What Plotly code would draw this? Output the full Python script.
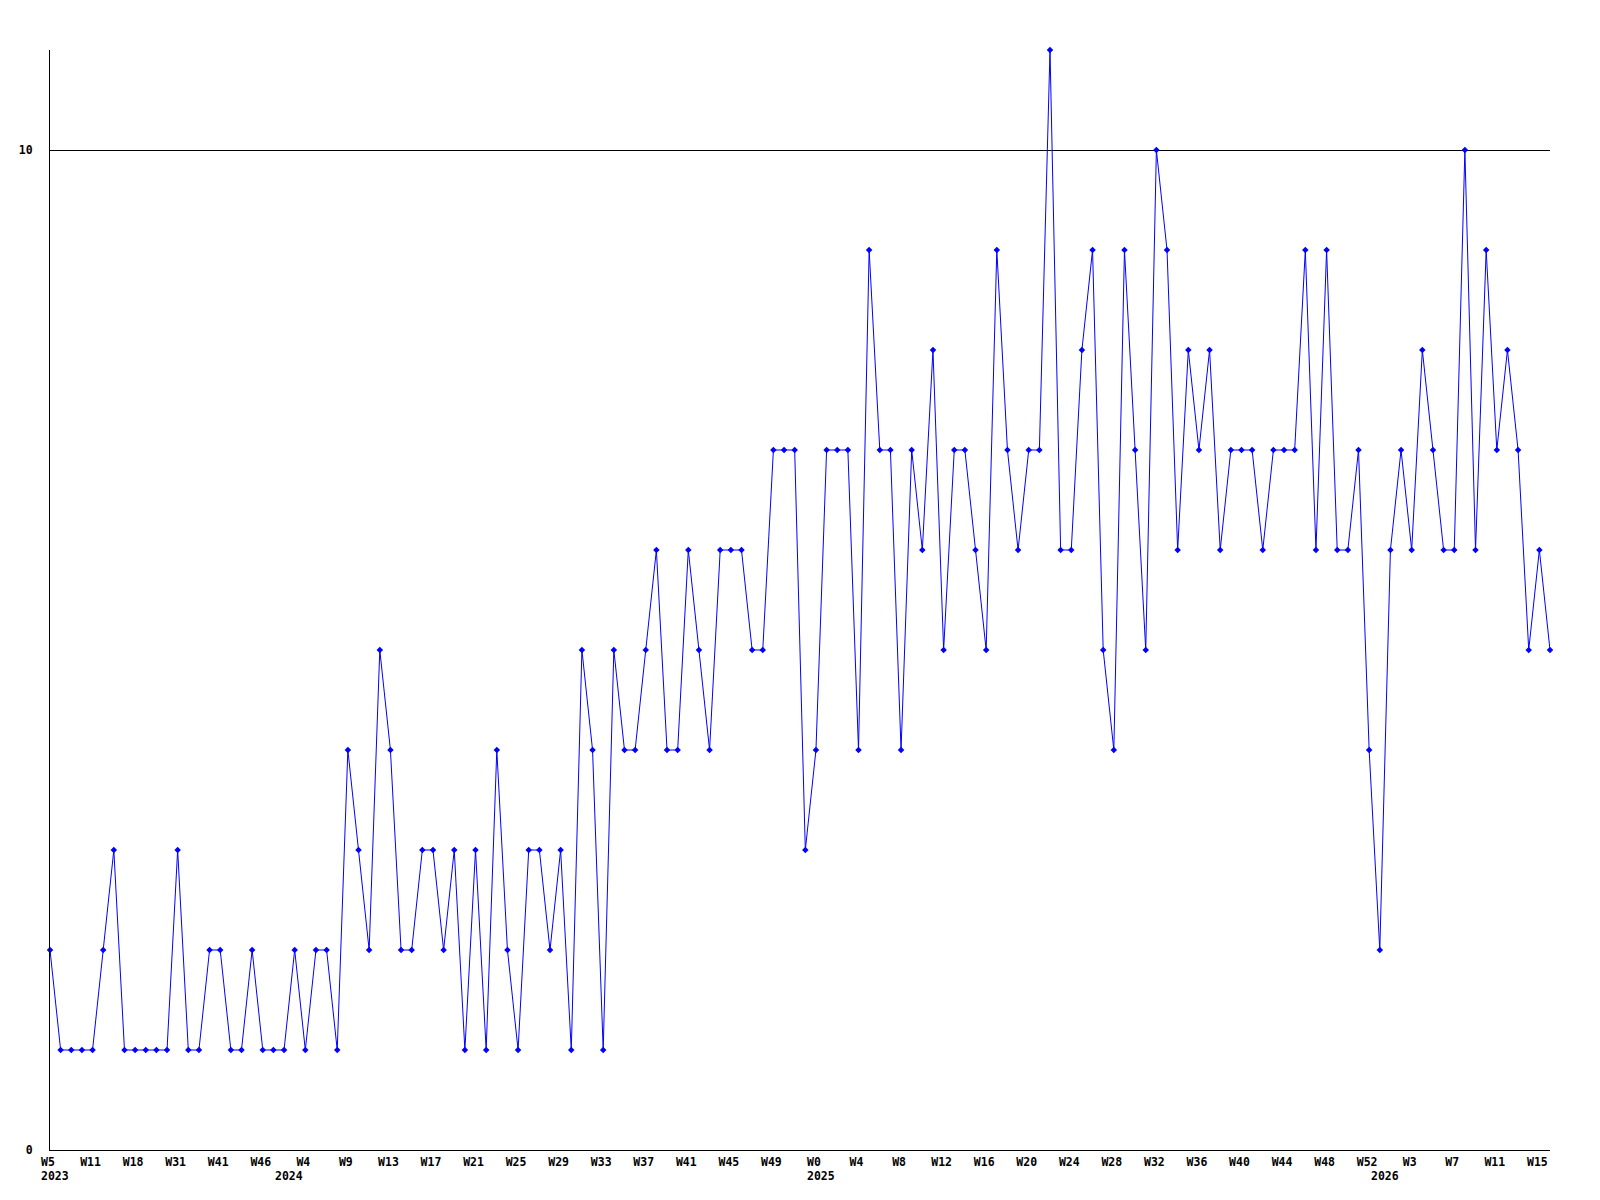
import plotly.graph_objects as go

# Weekly counts, one point per week (142 points)
values = [2, 1, 1, 1, 1, 2, 3, 1, 1, 1, 1, 1, 3, 1, 1, 2, 2, 1, 1, 2, 1, 1, 1, 2, 1,
          2, 2, 1, 4, 3, 2, 5, 4, 2, 2, 3, 3, 2, 3, 1, 3, 1, 4, 2, 1, 3, 3, 2,
          3, 1, 5, 4, 1, 5, 4, 4, 5, 6, 4, 4, 6, 5, 4, 6, 6, 6, 5, 5, 7, 7, 7, 3, 4,
          7, 7, 7, 4, 9, 7, 7, 4, 7, 6, 8, 5, 7, 7, 6, 5, 9, 7, 6, 7, 7, 11, 6, 6,
          8, 9, 5, 4, 9, 7, 5, 10, 9, 6, 8, 7, 8, 6, 7, 7, 7, 6, 7, 7, 7, 9, 6, 9,
          6, 6, 7, 4, 2, 6, 7, 6, 8, 7, 6, 6, 10, 6, 9, 7, 8, 7, 5, 6, 5]

# Week tick labels, shown on every 4th point
week_labels = ["W5", "W11", "W18", "W31", "W41", "W46", "W4", "W9", "W13", "W17",
               "W21", "W25", "W29", "W33", "W37", "W41", "W45", "W49", "W0", "W4",
               "W8", "W12", "W16", "W20", "W24", "W28", "W32", "W36", "W40", "W44",
               "W48", "W52", "W3", "W7", "W11", "W15"]
tick_step = 4

# Year labels and the point index where each year starts
year_labels = ["2023", "2024", "2025", "2026"]
year_start_index = [0, 22, 72, 125]

y_ticks = [0, 10]
y_max = 11

x = list(range(len(values)))
tick_positions = [i * tick_step for i in range(len(week_labels))]

FONT = dict(family="DejaVu Sans Mono, Liberation Mono, monospace", size=11.5,
            color="black", weight="bold")

fig = go.Figure()
fig.add_trace(go.Scatter(
    x=x, y=values, mode="lines+markers",
    line=dict(color="#0000FF", width=1),
    marker=dict(color="#0000FF", size=5, symbol="diamond"),
    cliponaxis=False, hoverinfo="x+y", showlegend=False,
))

for label, idx in zip(year_labels, year_start_index):
    fig.add_annotation(x=idx, xref="x", y=0, yref="paper", text=label,
                       showarrow=False, xanchor="left", yanchor="middle",
                       xshift=-11, yshift=-26, font=FONT)

fig.update_layout(
    width=1600, height=1200,
    margin=dict(l=50, r=50, t=50, b=50, pad=0),
    paper_bgcolor="white", plot_bgcolor="white",
    font=FONT,
    xaxis=dict(range=[0, len(values) - 1], tickmode="array",
               tickvals=tick_positions, ticktext=week_labels,
               showgrid=False, zeroline=False, showline=True,
               linecolor="black", linewidth=1, ticks="",
               ticklabelstandoff=1, ticklabelshift=-2, tickfont=FONT, tickangle=0),
    yaxis=dict(range=[0, y_max], tickmode="array", tickvals=y_ticks,
               ticktext=[str(v) for v in y_ticks],
               showgrid=True, gridcolor="black", gridwidth=1,
               zeroline=False, showline=True, linecolor="black", linewidth=1,
               ticks="", ticklabelstandoff=14, tickfont=FONT),
)

fig.write_html("out.html", config={"displayModeBar": False},
               post_script="document.body.style.margin='0';")
